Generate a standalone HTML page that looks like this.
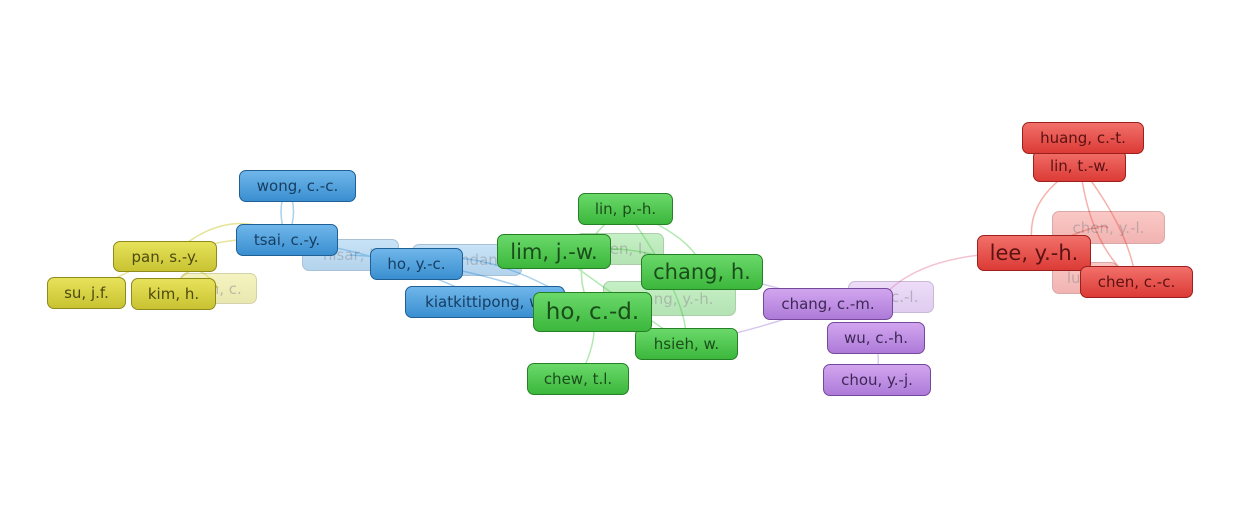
<!DOCTYPE html><html><head><style>
body{margin:0;width:1239px;height:520px;background:#fff;position:relative;overflow:hidden;font-family:"DejaVu Sans","Liberation Sans",sans-serif}
.n{position:absolute;box-sizing:border-box;border-radius:7px;border:1.5px solid;display:flex;align-items:center;justify-content:center;font-size:15px;white-space:nowrap;overflow:hidden}
.y{background:linear-gradient(#e6e25a,#c9c332);border-color:#8f8a1c;color:#4d4a10}
.b{background:linear-gradient(#6fb6ea,#3a8fd0);border-color:#1f5f95;color:#173e63}
.g{background:linear-gradient(#6ad96a,#3cb73c);border-color:#268026;color:#1a4d1a}
.p{background:linear-gradient(#d2a5ef,#ad7bd8);border-color:#74489a;color:#3f2757}
.r{background:linear-gradient(#f2706a,#dc3b36);border-color:#9c1f1c;color:#5a1212}
.f{opacity:.38}
.L{font-size:21px}
svg{position:absolute;left:0;top:0}
</style></head><body>
<svg width="1239" height="520" fill="none" stroke-width="1.5">
<g stroke="#e6e49a"><path d="M170 257 Q230 200 290 240"/><path d="M87 293 Q200 230 287 240"/><path d="M173 294 Q190 250 218 288"/></g>
<g stroke="#a8d0ef"><path d="M287 186 Q275 210 287 240"/><path d="M287 186 Q300 210 287 240"/><path d="M287 240 Q380 250 485 300"/><path d="M416 264 Q480 240 592 312"/><path d="M350 255 Q450 260 560 300"/></g>
<g stroke="#b2e8b2"><path d="M625 209 Q560 250 592 312"/><path d="M625 209 Q700 240 702 272"/><path d="M554 251 Q640 240 702 272"/><path d="M592 312 Q600 340 578 379"/><path d="M592 312 Q660 330 686 344"/><path d="M625 209 Q690 300 686 344"/><path d="M554 251 Q620 300 686 344"/></g>
<g stroke="#d9c8ee"><path d="M702 272 Q760 280 828 304"/><path d="M686 344 Q760 330 828 304"/><path d="M876 338 Q880 360 877 380"/></g>
<g stroke="#f4c3d0"><path d="M880 300 Q920 250 1034 253"/></g>
<g stroke="#f6b2ac"><path d="M1080 166 Q1020 200 1034 253"/><path d="M1080 166 Q1090 250 1136 282"/><path d="M1080 166 Q1130 230 1136 282"/><path d="M1034 253 Q1100 220 1108 228"/></g>
</svg>
<div class="n y f" style="left:180px;top:273px;width:77px;height:31px">fan, c.</div>
<div class="n y" style="left:113px;top:241px;width:104px;height:31px">pan, s.-y.</div>
<div class="n y" style="left:47px;top:277px;width:79px;height:32px">su, j.f.</div>
<div class="n y" style="left:131px;top:278px;width:85px;height:32px">kim, h.</div>
<div class="n b" style="left:239px;top:170px;width:117px;height:32px">wong, c.-c.</div>
<div class="n b f" style="left:302px;top:239px;width:97px;height:32px">hisar, l.</div>
<div class="n b f" style="left:412px;top:244px;width:110px;height:32px">hamdan</div>
<div class="n b" style="left:236px;top:224px;width:102px;height:32px">tsai, c.-y.</div>
<div class="n b" style="left:370px;top:248px;width:93px;height:32px">ho, y.-c.</div>
<div class="n b" style="left:405px;top:286px;width:160px;height:32px">kiatkittipong, w.</div>
<div class="n g" style="left:578px;top:193px;width:95px;height:32px">lin, p.-h.</div>
<div class="n g f" style="left:575px;top:233px;width:89px;height:32px">chen, l.</div>
<div class="n g f" style="left:603px;top:281px;width:133px;height:35px">huang, y.-h.</div>
<div class="n g L" style="left:497px;top:234px;width:114px;height:35px">lim, j.-w.</div>
<div class="n g L" style="left:641px;top:254px;width:122px;height:36px">chang, h.</div>
<div class="n g" style="left:635px;top:328px;width:103px;height:32px">hsieh, w.</div>
<div class="n g L" style="left:533px;top:292px;width:119px;height:40px;font-size:23px">ho, c.-d.</div>
<div class="n g" style="left:527px;top:363px;width:102px;height:32px">chew, t.l.</div>
<div class="n p f" style="left:848px;top:281px;width:86px;height:32px">lin, c.-l.</div>
<div class="n p" style="left:763px;top:288px;width:130px;height:32px">chang, c.-m.</div>
<div class="n p" style="left:827px;top:322px;width:98px;height:32px">wu, c.-h.</div>
<div class="n p" style="left:823px;top:364px;width:108px;height:32px">chou, y.-j.</div>
<div class="n r" style="left:1033px;top:150px;width:93px;height:32px">lin, t.-w.</div>
<div class="n r" style="left:1022px;top:122px;width:122px;height:32px">huang, c.-t.</div>
<div class="n r f" style="left:1052px;top:211px;width:113px;height:33px">chen, y.-l.</div>
<div class="n r f" style="left:1052px;top:262px;width:66px;height:32px">lu, c.</div>
<div class="n r L" style="left:977px;top:235px;width:114px;height:36px">lee, y.-h.</div>
<div class="n r" style="left:1080px;top:266px;width:113px;height:32px">chen, c.-c.</div>
</body></html>
